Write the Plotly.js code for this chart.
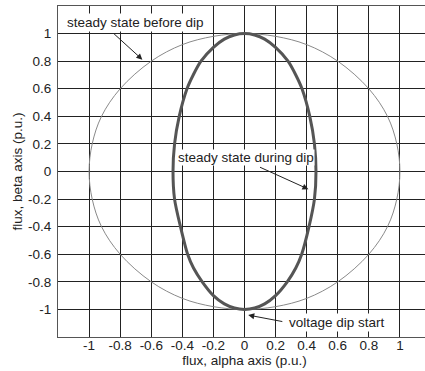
<!DOCTYPE html>
<html>
<head>
<meta charset="utf-8">
<script src="https://cdn.plot.ly/plotly-3.0.1.min.js"></script>
<style>
html,body{margin:0;padding:0;overflow:hidden;background:#fff;}
#chart{width:440px;height:371px;}
</style>
</head>
<body>
<div id="chart"></div>
<script>
// Outer trajectory: steady state before dip
var outerX = [1, 0.98, 0.92, 0.8, 0.6, 0.4, 0.2, 0, -0.2, -0.4, -0.6, -0.8, -0.92, -0.98, -1, -0.98, -0.92, -0.8, -0.6, -0.4, -0.2, 0, 0.2, 0.4, 0.6, 0.8, 0.92, 0.98, 1];
var outerY = [0, 0.2, 0.4, 0.6, 0.8, 0.92, 0.98, 1, 0.98, 0.92, 0.8, 0.6, 0.4, 0.2, 0, -0.2, -0.4, -0.6, -0.8, -0.92, -0.98, -1, -0.98, -0.92, -0.8, -0.6, -0.4, -0.2, 0];

// Inner trajectory: steady state during dip
var innerX = [0, 0.065, 0.13, 0.2, 0.28, 0.33, 0.37, 0.42, 0.45, 0.46, 0.45, 0.415, 0.368, 0.33, 0.275, 0.2, 0.13, 0.065, 0,
              -0.065, -0.13, -0.2, -0.272, -0.328, -0.366, -0.412, -0.45, -0.46, -0.45, -0.42, -0.37, -0.33, -0.28, -0.2, -0.13, -0.065, 0];
var innerY = [1, 0.99, 0.96, 0.9, 0.8, 0.7, 0.6, 0.4, 0.2, 0, -0.2, -0.4, -0.6, -0.7, -0.8, -0.9, -0.96, -0.99, -1,
              -0.99, -0.96, -0.9, -0.8, -0.7, -0.6, -0.4, -0.2, 0, 0.2, 0.4, 0.6, 0.7, 0.8, 0.9, 0.96, 0.99, 1];

var tickVals = [-1, -0.8, -0.6, -0.4, -0.2, 0, 0.2, 0.4, 0.6, 0.8, 1];
var tickText = ['-1', '-0.8', '-0.6', '-0.4', '-0.2', '0', '0.2', '0.4', '0.6', '0.8', '1'];

var traces = [
  {x: outerX, y: outerY, mode: 'lines', line: {color: '#8a8a8a', width: 1, shape: 'spline', smoothing: 1}, hoverinfo: 'skip'},
  {x: innerX, y: innerY, mode: 'lines', line: {color: '#555555', width: 3, shape: 'spline', smoothing: 0.8}, hoverinfo: 'skip'}
];

var fnt = {family: 'Liberation Sans, Arial, sans-serif', size: 13.5, color: '#222'};

var axisCommon = {
  range: [-1.2, 1.2],
  tickvals: tickVals,
  ticktext: tickText,
  showgrid: true,
  gridcolor: '#222',
  gridwidth: 1,
  zeroline: false,
  showline: true,
  mirror: true,
  linecolor: '#555',
  linewidth: 1,
  ticks: '',
  tickfont: fnt
};

var layout = {
  width: 440,
  height: 371,
  margin: {l: 58, r: 9, t: 6, b: 34},
  paper_bgcolor: '#fff',
  plot_bgcolor: '#fff',
  showlegend: false,
  font: fnt,
  xaxis: Object.assign({}, axisCommon, {
    ticklabelstandoff: -4,
    title: {text: 'flux, alpha axis (p.u.)', font: fnt, standoff: 2}
  }),
  yaxis: Object.assign({}, axisCommon, {
    ticklabelstandoff: 3,
    title: {text: 'flux, beta axis (p.u.)', font: fnt, standoff: 2}
  }),
  annotations: [
    {x: -0.70, y: 1.08, xref: 'x', yref: 'y', text: 'steady state before dip', showarrow: false, bgcolor: '#fff', borderpad: 1, font: fnt},
    {x: 0.008, y: 0.1, xref: 'x', yref: 'y', text: 'steady state during dip', showarrow: false, bgcolor: '#fff', borderpad: 0, font: fnt},
    {x: 0.592, y: -1.092, xref: 'x', yref: 'y', text: 'voltage dip start', showarrow: false, bgcolor: '#fff', borderpad: 1, font: fnt},
    {x: -0.657, y: 0.811, ax: -0.849, ay: 1.008, xref: 'x', yref: 'y', axref: 'x', ayref: 'y', text: '', showarrow: true, arrowhead: 2, arrowsize: 1.2, arrowwidth: 1, arrowcolor: '#222'},
    {x: 0.411, y: -0.128, ax: 0.09, ay: 0.036, xref: 'x', yref: 'y', axref: 'x', ayref: 'y', text: '', showarrow: true, arrowhead: 2, arrowsize: 1.2, arrowwidth: 1, arrowcolor: '#222'},
    {x: 0.024, y: -1.041, ax: 0.253, ay: -1.09, xref: 'x', yref: 'y', axref: 'x', ayref: 'y', text: '', showarrow: true, arrowhead: 2, arrowsize: 1.2, arrowwidth: 1, arrowcolor: '#222'}
  ]
};

Plotly.newPlot('chart', traces, layout, {displayModeBar: false, staticPlot: true});
</script>
</body>
</html>
